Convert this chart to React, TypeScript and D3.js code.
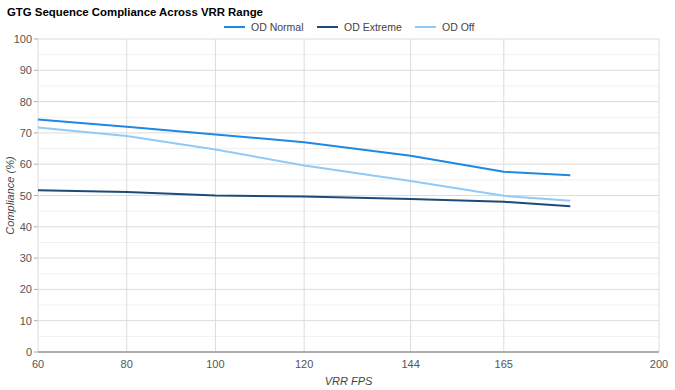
import React from 'react';
import * as d3 from 'd3';

const fps = [60, 80, 100, 120, 144, 165, 180];
const odNormal = [74.3, 72.0, 69.5, 67.0, 62.7, 57.6, 56.5];
const odExtreme = [51.7, 51.1, 50.0, 49.7, 48.9, 48.0, 46.6];
const odOff = [71.7, 69.0, 64.7, 59.6, 54.6, 49.9, 48.3];

const xTicks = [60, 80, 100, 120, 144, 165, 200];
const yTicks = [0, 10, 20, 30, 40, 50, 60, 70, 80, 90, 100];

const series = [
  { name: 'OD Normal', values: odNormal, color: '#1e88e5' },
  { name: 'OD Extreme', values: odExtreme, color: '#1b4c78' },
  { name: 'OD Off', values: odOff, color: '#90caf9' },
];

const W = 675;
const H = 390;
const margin = { top: 39, right: 16, bottom: 38, left: 38 };

export default function App() {
  const x = d3.scaleLinear().domain([60, 200]).range([margin.left, W - margin.right]);
  const y = d3.scaleLinear().domain([0, 100]).range([H - margin.bottom, margin.top]);
  const minor = d3.range(5, 100, 10);

  const line = (vals: number[]) =>
    d3.line<number>()
      .x((_, i) => x(fps[i]))
      .y(d => y(d))(vals) || '';

  const legendX = [224, 317, 415];

  return (
    <svg width={W} height={H} style={{ position: 'fixed', left: 0, top: 0, fontFamily: '"Liberation Sans", Arial, sans-serif' }}>
      <rect width={W} height={H} fill="#fff" />
      <text x={7} y={16} fontSize={11.4} fontWeight="bold" fill="#000">GTG Sequence Compliance Across VRR Range</text>

      {series.map((s, i) => (
        <g key={s.name}>
          <line x1={legendX[i]} x2={legendX[i] + 21} y1={27} y2={27} stroke={s.color} strokeWidth={2} />
          <text x={legendX[i] + 27} y={31} fontSize={10.5} fill="#444">{s.name}</text>
        </g>
      ))}

      {minor.map(v => (
        <line key={'m' + v} x1={margin.left} x2={W - margin.right} y1={y(v)} y2={y(v)} stroke="#f0f0f0" />
      ))}
      {yTicks.map(v => (
        <g key={'y' + v}>
          <line x1={margin.left} x2={W - margin.right} y1={y(v)} y2={y(v)} stroke="#dcdcdc" />
          <line x1={margin.left - 4} x2={margin.left} y1={y(v)} y2={y(v)} stroke="#aaa" />
          <text x={margin.left - 6} y={y(v) + 4} fontSize={11} fill="#555" textAnchor="end">{v}</text>
        </g>
      ))}
      {xTicks.map(v => (
        <g key={'x' + v}>
          <line x1={x(v)} x2={x(v)} y1={margin.top} y2={H - margin.bottom} stroke="#dcdcdc" />
          <text x={x(v)} y={H - margin.bottom + 16} fontSize={11} fill="#555" textAnchor="middle">{v}</text>
        </g>
      ))}
      <line x1={margin.left} x2={W - margin.right} y1={y(0)} y2={y(0)} stroke="#999" strokeWidth={1.5} />

      {series.map(s => (
        <path key={s.name} d={line(s.values)} fill="none" stroke={s.color} strokeWidth={2} />
      ))}

      <text x={(margin.left + W - margin.right) / 2} y={H - 5} fontSize={11} fontStyle="italic" fill="#444" textAnchor="middle">VRR FPS</text>
      <text transform={`translate(14,${(margin.top + H - margin.bottom) / 2}) rotate(-90)`} fontSize={11} fontStyle="italic" fill="#444" textAnchor="middle">Compliance (%)</text>
    </svg>
  );
}
